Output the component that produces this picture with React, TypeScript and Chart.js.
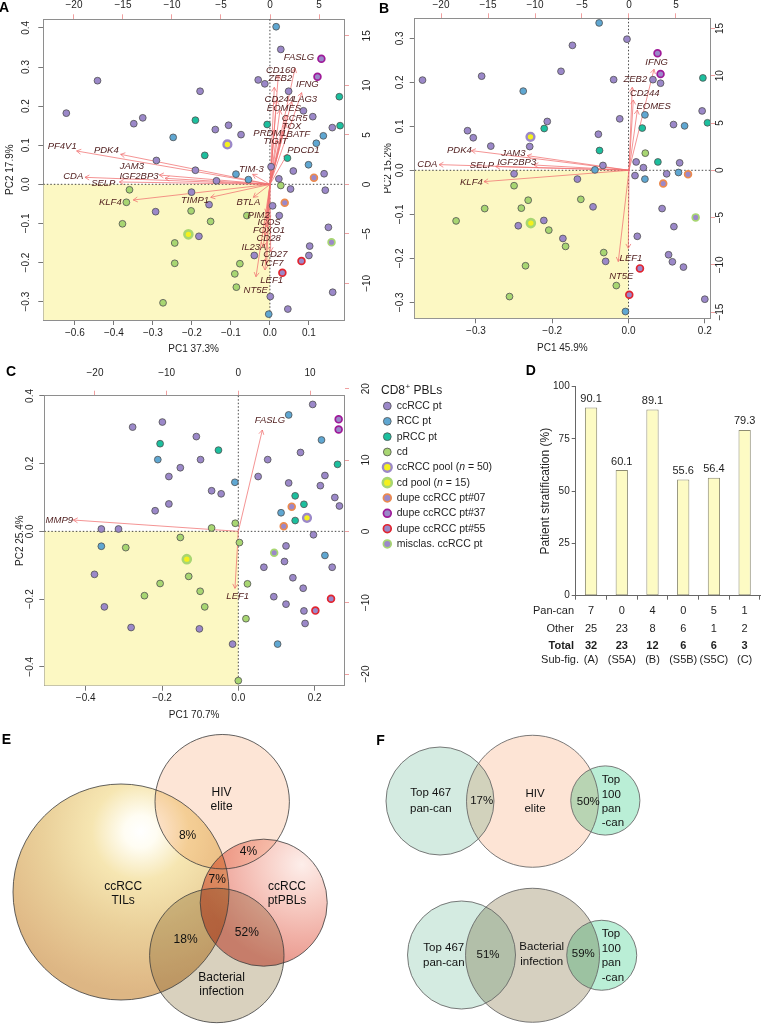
import React, { useEffect, useRef } from "react";
import { Chart, registerables } from "chart.js";

Chart.register(...registerables);

type P = [number, number];

// ======================= DATA =======================
const GROUPS = [
  "ccRCC pt",
  "RCC pt",
  "pRCC pt",
  "cd",
  "ccRCC pool (*n* = 50)",
  "cd pool (*n* = 15)",
  "dupe ccRCC pt#07",
  "dupe ccRCC pt#37",
  "dupe ccRCC pt#55",
  "misclas. ccRCC pt",
];

// ---- Panel A (PC1 37.3%, PC2 17.9%) ----
const A_ccRCC: P[] = [[-0.522,0.182],[-0.442,0.265],[-0.349,0.155],[-0.326,0.170],[-0.291,0.061],[-0.293,-0.070],[-0.179,0.238],[-0.191,0.036],[-0.201,-0.020],[-0.156,-0.052],[-0.182,-0.133],[-0.140,0.140],[-0.106,0.151],[-0.074,0.127],[-0.137,0.009],[-0.030,0.267],[-0.013,0.257],[0.028,0.345],[0.048,0.238],[0.086,0.188],[0.110,0.173],[0.160,0.145],[0.003,0.045],[0.023,0.014],[0.060,0.034],[0.139,0.027],[0.142,-0.015],[0.053,-0.012],[0.007,-0.055],[0.024,-0.080],[-0.040,-0.182],[0.102,-0.158],[0.100,-0.182],[0.150,-0.110],[0.161,-0.276],[0.001,-0.287],[0.046,-0.319]];
const A_RCC: P[] = [[0.016,0.403],[-0.248,0.120],[-0.087,0.026],[-0.055,0.012],[0.137,0.124],[0.119,0.105],[0.099,0.050],[-0.003,-0.332]];
const A_pRCC: P[] = [[-0.191,0.164],[-0.167,0.074],[-0.007,0.153],[0.045,0.067],[0.178,0.224],[0.180,0.150]];
const A_cd: P[] = [[-0.360,-0.014],[-0.368,-0.046],[-0.378,-0.101],[-0.202,-0.068],[-0.152,-0.095],[-0.059,-0.080],[-0.244,-0.150],[-0.244,-0.202],[-0.077,-0.203],[-0.090,-0.229],[-0.086,-0.263],[-0.274,-0.303],[0.028,-0.003]];
const A_ccPool: P[] = [[-0.109,0.102]];
const A_cdPool: P[] = [[-0.209,-0.128]];
const A_dupe07: P[] = [[0.113,0.017],[0.038,-0.047]];
const A_dupe37: P[] = [[0.132,0.321],[0.122,0.275]];
const A_dupe55: P[] = [[0.081,-0.196],[0.032,-0.226]];
const A_misclas: P[] = [[0.158,-0.148]];
const A_GENES = ["PF4V1","PDK4","JAM3","IGF2BP3","CDA","SELP","KLF4","TIMP1","TIM-3","BTLA","PIM2","ICOS","FOXO1","CD28","IL23A","CD27","TCF7","LEF1","NT5E","FASLG","CD160","ZEB2","IFNG","CD244","LAG3","EOMES","CCR5","TOX","PRDM1","BATF","TIGIT","PDCD1"];
const A_LOADINGS: P[] = [[-19.73,3.37],[-15.24,3.03],[-11.29,0.94],[-10.71,0.61],[-18.88,0.71],[-15.37,0.24],[-13.95,-1.58],[-6.05,-1.31],[-1.77,1.01],[-1.70,-1.31],[-0.34,-2.93],[-0.17,-3.60],[-0.34,-4.28],[-0.51,-5.12],[-0.68,-6.30],[0.07,-6.80],[-0.34,-7.98],[-1.43,-9.33],[-0.51,-8.65],[2.55,11.72],[0.85,11.04],[0.44,9.80],[3.23,9.26],[0.68,8.52],[2.21,8.35],[1.02,7.51],[1.70,7.00],[1.63,6.16],[0.41,5.49],[1.29,5.32],[0.75,4.48],[1.77,3.06]];
const A_LABEL_AT: P[] = [[-21.2,3.80],[-16.7,3.40],[-14.1,1.78],[-13.37,0.84],[-20.07,0.77],[-17.01,0.07],[-16.29,-1.82],[-7.65,-1.58],[-1.90,1.52],[-2.21,-1.78],[-1.16,-3.13],[-0.10,-3.87],[-0.10,-4.65],[-0.14,-5.49],[-1.63,-6.33],[0.54,-7.10],[0.17,-7.95],[0.17,-9.66],[-1.46,-10.67],[2.96,12.83],[1.09,11.55],[1.05,10.67],[3.81,10.07],[0.95,8.62],[3.57,8.59],[1.43,7.71],[2.52,6.70],[2.21,5.82],[0.0,5.15],[2.89,5.05],[0.54,4.31],[3.40,3.40]];
const A_XTICKS = [-0.5,-0.4,-0.3,-0.2,-0.1,0,0.1];
const A_XTICK_LABELS = ["-0.6","-0.4","-0.3","-0.2","-0.1","0.0","0.1"];
const A_YTICKS = [-0.3,-0.2,-0.1,0,0.1,0.2,0.3,0.4];
const A_YTICK_LABELS = ["-0.3","-0.2","-0.1","0.0","0.1","0.2","0.3","0.4"];
const A_X2TICKS = [-20,-15,-10,-5,0,5];
const A_Y2TICKS = [-10,-5,0,5,10,15];

// ---- Panel B (PC1 45.9%, PC2 15.2%) ----
const B_ccRCC: P[] = [[-0.540,0.205],[-0.385,0.214],[-0.422,0.090],[-0.407,0.074],[-0.361,0.055],[-0.259,0.054],[-0.213,0.111],[-0.177,0.225],[-0.147,0.284],[-0.079,0.082],[-0.067,0.011],[-0.300,-0.008],[-0.134,-0.020],[-0.093,-0.083],[-0.289,-0.126],[-0.222,-0.114],[-0.172,-0.155],[-0.060,-0.207],[-0.039,0.206],[-0.004,0.298],[-0.023,0.117],[0.020,0.019],[0.039,0.006],[0.017,-0.012],[0.064,0.206],[0.084,0.198],[0.100,-0.008],[0.088,-0.087],[0.118,0.104],[0.134,0.017],[0.119,-0.128],[0.105,-0.192],[0.115,-0.208],[0.144,-0.220],[0.023,-0.150],[0.193,0.135],[0.200,-0.293]];
const B_RCC: P[] = [[-0.077,0.335],[-0.276,0.180],[-0.088,0.001],[0.043,0.126],[0.043,-0.020],[0.147,0.101],[0.131,-0.005],[-0.008,-0.321]];
const B_pRCC: P[] = [[-0.221,0.095],[-0.076,0.045],[0.036,0.096],[0.077,0.019],[0.195,0.210],[0.207,0.108]];
const B_cd: P[] = [[-0.300,-0.035],[-0.263,-0.068],[-0.377,-0.087],[-0.281,-0.086],[-0.452,-0.115],[-0.209,-0.136],[-0.165,-0.173],[-0.125,-0.066],[-0.065,-0.187],[-0.270,-0.217],[-0.312,-0.287],[-0.032,-0.262],[0.044,0.039]];
const B_ccPool: P[] = [[-0.257,0.076]];
const B_cdPool: P[] = [[-0.256,-0.120]];
const B_dupe07: P[] = [[0.156,-0.009],[0.091,-0.030]];
const B_dupe37: P[] = [[0.076,0.266],[0.084,0.219]];
const B_dupe55: P[] = [[0.030,-0.223],[0.002,-0.283]];
const B_misclas: P[] = [[0.176,-0.107]];
const B_GENES = ["PDK4","CDA","JAM3","IGF2BP3","SELP","KLF4","IFNG","ZEB2","CD244","EOMES","LEF1","NT5E"];
const B_LOADINGS: P[] = [[-16.77,2.08],[-20.21,0.60],[-10.82,1.55],[-10.11,0.56],[-14.18,0.39],[-15.43,-1.20],[2.66,10.69],[0.35,8.78],[0.46,7.44],[0.89,6.38],[-0.07,-8.25],[-1.14,-9.66]];
const B_LABEL_AT: P[] = [[-18.05,2.12],[-21.45,0.60],[-12.30,1.80],[-11.95,0.81],[-15.64,0.53],[-16.77,-1.23],[2.94,11.46],[0.67,9.66],[1.67,8.15],[2.62,6.81],[0.21,-9.31],[-0.82,-11.25]];
const B_XTICKS = [-0.4,-0.2,0,0.2];
const B_XTICK_LABELS = ["-0.3","-0.2","0.0","0.2"];
const B_YTICKS = [-0.3,-0.2,-0.1,0,0.1,0.2,0.3];
const B_YTICK_LABELS = ["-0.3","-0.2","-0.1","0.0","0.1","0.2","0.3"];
const B_X2TICKS = [-20,-15,-10,-5,0,5];
const B_Y2TICKS = [-15,-10,-5,0,5,10,15];

// ---- Panel C (PC1 70.7%, PC2 25.4%) ----
const C_ccRCC: P[] = [[-0.277,0.308],[-0.199,0.323],[-0.110,0.280],[-0.152,0.188],[-0.182,0.162],[-0.099,0.212],[-0.070,0.120],[-0.045,0.111],[-0.182,0.081],[-0.218,0.061],[-0.359,0.007],[-0.314,0.007],[-0.377,-0.127],[-0.351,-0.223],[-0.281,-0.284],[-0.102,-0.288],[-0.015,-0.333],[0.052,0.162],[0.077,0.212],[0.132,0.143],[0.163,0.233],[0.195,0.375],[0.215,0.135],[0.227,0.165],[0.253,0.100],[0.265,0.075],[0.197,-0.010],[0.125,-0.043],[0.121,-0.089],[0.067,-0.106],[0.143,-0.137],[0.170,-0.168],[0.093,-0.193],[0.125,-0.215],[0.172,-0.235],[0.175,-0.272],[0.246,-0.106]];
const C_RCC: P[] = [[0.132,0.344],[-0.211,0.212],[-0.009,0.145],[0.218,0.270],[0.112,0.055],[-0.359,-0.044],[0.227,-0.071],[0.103,-0.333]];
const C_pRCC: P[] = [[-0.205,0.259],[-0.052,0.240],[0.149,0.105],[0.172,0.080],[0.149,0.032],[0.260,0.198]];
const C_cd: P[] = [[-0.070,0.010],[-0.008,0.024],[-0.152,-0.018],[0.003,-0.033],[-0.295,-0.048],[-0.130,-0.133],[-0.205,-0.154],[-0.246,-0.190],[-0.100,-0.177],[-0.088,-0.223],[0.024,-0.155],[0.020,-0.258],[0.000,-0.441]];
const C_ccPool: P[] = [[0.180,0.040]];
const C_cdPool: P[] = [[-0.135,-0.082]];
const C_dupe07: P[] = [[0.140,0.073],[0.119,0.015]];
const C_dupe37: P[] = [[0.263,0.331],[0.263,0.301]];
const C_dupe55: P[] = [[0.243,-0.199],[0.202,-0.234]];
const C_misclas: P[] = [[0.094,-0.063]];
const C_GENES = ["MMP9","FASLG","LEF1"];
const C_LOADINGS: P[] = [[-23.02,1.59],[3.35,14.21],[-0.47,-7.99]];
const C_LABEL_AT: P[] = [[-24.98,1.59],[4.42,15.51],[-0.09,-9.16]];
const C_XTICKS = [-0.4,-0.2,0,0.2];
const C_XTICK_LABELS = ["-0.4","-0.2","0.0","0.2"];
const C_YTICKS = [-0.4,-0.2,0,0.2,0.4];
const C_YTICK_LABELS = ["-0.4","-0.2","0.0","0.2","0.4"];
const C_X2TICKS = [-20,-10,0,10];
const C_Y2TICKS = [-20,-10,0,10,20];

// ---- Panel D ----
const D_SUBFIG = ["(A)","(S5A)","(B)","(S5B)","(S5C)","(C)"];
const D_STRAT = [90.1,60.1,89.1,55.6,56.4,79.3];
const D_PANCAN = [7,0,4,0,5,1];
const D_OTHER = [25,23,8,6,1,2];
const D_TOTAL = [32,23,12,6,6,3];
const D_YTICKS = [0,25,50,75,100];

// ---- Panel E (Venn) ----
const E_SETS = ["ccRCC\nTILs","HIV\nelite","ccRCC\nptPBLs","Bacterial\ninfection"];
const E_CX = [30.25,55.55,65.93,54.2];
const E_CY = [34.75,57.33,32.08,18.88];
const E_R = [27,16.8,15.88,16.8];
const E_PCT = ["8%","4%","7%","52%","18%"];

// ---- Panel F (Venns) ----
const F_SETS = ["Top 467\npan-can","HIV\nelite","Top\n100\npan\n-can","Top 467\npan-can","Bacterial\ninfection","Top\n100\npan\n-can"];
const F_CX = [16.25,39.38,57.58,21.63,39.38,56.68];
const F_CY = [57.5,57.43,57.63,19.0,18.93,18.93];
const F_R = [13.5,16.5,8.65,13.5,16.75,8.75];
const F_PCT = ["17%","50%","51%","59%"];

// ======================= STYLE / LAYOUT =======================
const FONT = "'Liberation Sans', Arial, Helvetica, sans-serif";
const MINUS = "\u2212";
const neg = (s: string) => s.replace(/^-/, MINUS);
const QUAD = "#fcf8c3";
const ARROW = "#f07070";
const GENE_TXT = "#4e1c1c";
const BOX = "#8e8e8e";
const TICK_DARK = "#777777";
const TICK_PINK = "#f0a0a0";
const TXT = "#1e1e1e";

const PURPLE = "#9b88c9";
const BLUE = "#5fa7d2";
const TEAL = "#1cbf9e";
const GREEN = "#a8d672";
const YELLOW = "#f4f01e";
const EDGE = "#505050";
const GROUP_STYLE = [
  { fill: PURPLE, stroke: EDGE, r: 3.4, w: 0.8 },
  { fill: BLUE, stroke: EDGE, r: 3.4, w: 0.8 },
  { fill: TEAL, stroke: EDGE, r: 3.4, w: 0.8 },
  { fill: GREEN, stroke: EDGE, r: 3.4, w: 0.8 },
  { fill: YELLOW, stroke: PURPLE, r: 3.9, w: 2.4 },
  { fill: YELLOW, stroke: GREEN, r: 4.0, w: 2.6 },
  { fill: PURPLE, stroke: "#ec8a4e", r: 3.4, w: 1.7 },
  { fill: PURPLE, stroke: "#9f1a98", r: 3.4, w: 1.7 },
  { fill: PURPLE, stroke: "#e2252f", r: 3.4, w: 1.7 },
  { fill: PURPLE, stroke: GREEN, r: 3.4, w: 1.7 },
];

interface Biplot {
  groups: P[][];
  genes: string[]; loadings: P[]; labelAt: P[];
  xRange: P; yRange: P; x2Range: P; y2Range: P;
  xTicks: number[]; xTickLabels: string[];
  yTicks: number[]; yTickLabels: string[];
  x2Ticks: number[]; y2Ticks: number[];
  xTitle: string; yTitle: string;
}
interface BLayout {
  left: number; top: number; right: number; bottom: number;
  labLeft: number; labRight: number; labTop: number; labBottom: number;
  titleBottom: number; titleLeft: number;
  legend?: { x: number; titleY: number; mx: number; tx: number; y0: number; dy: number };
}

const PANEL_A: Biplot = {
  groups: [A_ccRCC, A_RCC, A_pRCC, A_cd, A_ccPool, A_cdPool, A_dupe07, A_dupe37, A_dupe55, A_misclas],
  genes: A_GENES, loadings: A_LOADINGS, labelAt: A_LABEL_AT,
  xRange: [-0.581, 0.190], yRange: [-0.347, 0.422], x2Range: [-23.13, 7.55], y2Range: [-13.70, 16.67],
  xTicks: A_XTICKS, xTickLabels: A_XTICK_LABELS, yTicks: A_YTICKS, yTickLabels: A_YTICK_LABELS,
  x2Ticks: A_X2TICKS, y2Ticks: A_Y2TICKS, xTitle: "PC1 37.3%", yTitle: "PC2 17.9%",
};
const PANEL_B: Biplot = {
  groups: [B_ccRCC, B_RCC, B_pRCC, B_cd, B_ccPool, B_cdPool, B_dupe07, B_dupe37, B_dupe55, B_misclas],
  genes: B_GENES, loadings: B_LOADINGS, labelAt: B_LABEL_AT,
  xRange: [-0.5605, 0.2136], yRange: [-0.3364, 0.3455], x2Range: [-22.80, 8.62], y2Range: [-15.66, 16.08],
  xTicks: B_XTICKS, xTickLabels: B_XTICK_LABELS, yTicks: B_YTICKS, yTickLabels: B_YTICK_LABELS,
  x2Ticks: B_X2TICKS, y2Ticks: B_Y2TICKS, xTitle: "PC1 45.9%", yTitle: "PC2 15.2%",
};
const PANEL_C: Biplot = {
  groups: [C_ccRCC, C_RCC, C_pRCC, C_cd, C_ccPool, C_cdPool, C_dupe07, C_dupe37, C_dupe55, C_misclas],
  genes: C_GENES, loadings: C_LOADINGS, labelAt: C_LABEL_AT,
  xRange: [-0.5085, 0.277], yRange: [-0.4559, 0.4008], x2Range: [-27.07, 14.74], y2Range: [-21.64, 19.02],
  xTicks: C_XTICKS, xTickLabels: C_XTICK_LABELS, yTicks: C_YTICKS, yTickLabels: C_YTICK_LABELS,
  x2Ticks: C_X2TICKS, y2Ticks: C_Y2TICKS, xTitle: "PC1 70.7%", yTitle: "PC2 25.4%",
};

const LAYOUT_A: BLayout = { left: 43.3, top: 19.3, right: 40, bottom: 42, labLeft: 17.5, labRight: 23, labTop: 14.3, labBottom: 13, titleBottom: 29.7, titleLeft: 33 };
const LAYOUT_B: BLayout = { left: 30.7, top: 18.3, right: 58, bottom: 43.7, labLeft: 14.7, labRight: 10, labTop: 13.3, labBottom: 13, titleBottom: 29.7, titleLeft: 26 };
const LAYOUT_C: BLayout = {
  left: 44.3, top: 33.7, right: 196, bottom: 36.3, labLeft: 14.3, labRight: 22.7, labTop: 22.4, labBottom: 12.6, titleBottom: 29.3, titleLeft: 24,
  legend: { x: 381, titleY: 28.7, mx: 387.3, tx: 396.7, y0: 44, dy: 15.33 },
};

// ======================= HELPERS =======================
function fixedTicks(values: number[]) {
  return (scale: any) => {
    scale.ticks = values.map((value) => ({ value }));
  };
}

function drawArrow(ctx: CanvasRenderingContext2D, x1: number, y1: number, x2: number, y2: number) {
  const len = 5, ang = Math.PI / 6;
  const a = Math.atan2(y2 - y1, x2 - x1);
  ctx.beginPath();
  ctx.moveTo(x1, y1);
  ctx.lineTo(x2, y2);
  ctx.moveTo(x2 - len * Math.cos(a - ang), y2 - len * Math.sin(a - ang));
  ctx.lineTo(x2, y2);
  ctx.lineTo(x2 - len * Math.cos(a + ang), y2 - len * Math.sin(a + ang));
  ctx.stroke();
}

function drawRich(ctx: CanvasRenderingContext2D, text: string, x: number, y: number, size: number) {
  let cx = x;
  text.split("*").forEach((part, i) => {
    ctx.font = `${i % 2 ? "italic " : ""}${size}px ${FONT}`;
    ctx.fillText(part, cx, y);
    cx += ctx.measureText(part).width;
  });
}

function vText(ctx: CanvasRenderingContext2D, text: string, x: number, y: number) {
  ctx.save();
  ctx.translate(x, y);
  ctx.rotate(-Math.PI / 2);
  ctx.fillText(text, 0, 0);
  ctx.restore();
}

function multiline(ctx: CanvasRenderingContext2D, text: string, x: number, y: number, lh: number) {
  const lines = text.split("\n");
  const y0 = y - ((lines.length - 1) * lh) / 2;
  lines.forEach((l, i) => ctx.fillText(l, x, y0 + i * lh));
}

// ======================= BIPLOT =======================
function biplotPlugin(p: Biplot, L: BLayout) {
  return {
    id: "biplot",
    beforeDatasetsDraw(chart: any) {
      const { ctx, chartArea: a, scales } = chart;
      const x0 = scales.x.getPixelForValue(0);
      const y0 = scales.y.getPixelForValue(0);
      ctx.save();
      ctx.beginPath();
      ctx.rect(a.left, a.top, a.right - a.left, a.bottom - a.top);
      ctx.clip();
      ctx.fillStyle = QUAD;
      ctx.fillRect(a.left, y0, x0 - a.left, a.bottom - y0);
      ctx.strokeStyle = "#1a1a1a";
      ctx.lineWidth = 0.8;
      ctx.setLineDash([1.5, 2]);
      ctx.beginPath();
      ctx.moveTo(x0, a.top);
      ctx.lineTo(x0, a.bottom);
      ctx.moveTo(a.left, y0);
      ctx.lineTo(a.right, y0);
      ctx.stroke();
      ctx.setLineDash([]);
      const ox = scales.x2.getPixelForValue(0);
      const oy = scales.y2.getPixelForValue(0);
      ctx.strokeStyle = ARROW;
      ctx.lineWidth = 0.75;
      p.loadings.forEach(([u, v]) => drawArrow(ctx, ox, oy, scales.x2.getPixelForValue(u), scales.y2.getPixelForValue(v)));
      ctx.restore();
    },
    afterDatasetsDraw(chart: any) {
      const { ctx, scales } = chart;
      ctx.save();
      ctx.fillStyle = GENE_TXT;
      ctx.font = `italic 9.5px ${FONT}`;
      ctx.textAlign = "center";
      ctx.textBaseline = "middle";
      p.genes.forEach((g, i) => {
        const [u, v] = p.labelAt[i];
        ctx.fillText(g, scales.x2.getPixelForValue(u), scales.y2.getPixelForValue(v));
      });
      ctx.restore();
    },
    afterDraw(chart: any) {
      const { ctx, chartArea: a, scales } = chart;
      ctx.save();
      ctx.fillStyle = TXT;
      ctx.font = `10px ${FONT}`;
      ctx.textAlign = "center";
      ctx.textBaseline = "middle";
      p.xTicks.forEach((v, i) => ctx.fillText(neg(p.xTickLabels[i]), scales.x.getPixelForValue(v), a.bottom + L.labBottom));
      p.x2Ticks.forEach((v) => ctx.fillText(neg(String(v)), scales.x2.getPixelForValue(v), a.top - L.labTop));
      p.yTicks.forEach((v, i) => vText(ctx, neg(p.yTickLabels[i]), a.left - L.labLeft, scales.y.getPixelForValue(v)));
      p.y2Ticks.forEach((v) => vText(ctx, neg(String(v)), a.right + L.labRight, scales.y2.getPixelForValue(v)));
      ctx.fillText(p.xTitle, (a.left + a.right) / 2, a.bottom + L.titleBottom);
      vText(ctx, p.yTitle, a.left - L.titleLeft, (a.top + a.bottom) / 2);
      const lg = L.legend;
      if (lg) {
        ctx.textAlign = "left";
        ctx.font = `12px ${FONT}`;
        ctx.fillText("CD8", lg.x, lg.titleY);
        const w1 = ctx.measureText("CD8").width;
        ctx.font = `8px ${FONT}`;
        ctx.fillText("+", lg.x + w1 + 0.5, lg.titleY - 3.5);
        const w2 = ctx.measureText("+").width;
        ctx.font = `12px ${FONT}`;
        ctx.fillText(" PBLs", lg.x + w1 + w2 + 0.5, lg.titleY);
        GROUPS.forEach((g, i) => {
          const st = GROUP_STYLE[i];
          const y = lg.y0 + i * lg.dy;
          ctx.beginPath();
          ctx.arc(lg.mx, y, st.r + 0.5, 0, Math.PI * 2);
          ctx.fillStyle = st.fill;
          ctx.fill();
          ctx.lineWidth = st.w;
          ctx.strokeStyle = st.stroke;
          ctx.stroke();
          ctx.fillStyle = TXT;
          drawRich(ctx, g, lg.tx, y, 10.5);
        });
      }
      ctx.restore();
    },
  };
}

function makeBiplot(p: Biplot, L: BLayout) {
  const datasets = p.groups.map((pts, i) => ({
    label: GROUPS[i].replace(/\*/g, ""),
    data: pts.map(([x, y]) => ({ x, y })),
    xAxisID: "x",
    yAxisID: "y",
    pointRadius: GROUP_STYLE[i].r,
    pointHoverRadius: GROUP_STYLE[i].r,
    pointBackgroundColor: GROUP_STYLE[i].fill,
    pointBorderColor: GROUP_STYLE[i].stroke,
    pointBorderWidth: GROUP_STYLE[i].w,
  }));
  const grid = (color: string) => ({ display: true, drawOnChartArea: false, drawTicks: true, tickLength: 5, color, lineWidth: 1 });
  const border = { display: true, color: BOX, width: 1 };
  const axis = (position: string, range: P, ticks: number[], color: string, fit: (s: any) => void) => ({
    type: "linear",
    position,
    min: range[0],
    max: range[1],
    afterBuildTicks: fixedTicks(ticks),
    afterFit: fit,
    ticks: { display: false },
    grid: grid(color),
    border,
  });
  return {
    type: "scatter",
    data: { datasets },
    options: {
      responsive: false,
      animation: false,
      devicePixelRatio: 1,
      events: [],
      layout: { padding: 0 },
      plugins: { legend: { display: false }, tooltip: { enabled: false } },
      scales: {
        x: axis("bottom", p.xRange, p.xTicks, TICK_DARK, (s: any) => { s.height = L.bottom; }),
        x2: axis("top", p.x2Range, p.x2Ticks, TICK_PINK, (s: any) => { s.height = L.top; }),
        y: axis("left", p.yRange, p.yTicks, TICK_DARK, (s: any) => { s.width = L.left; }),
        y2: axis("right", p.y2Range, p.y2Ticks, TICK_PINK, (s: any) => { s.width = L.right; }),
      },
    },
    plugins: [biplotPlugin(p, L)],
  };
}

// ======================= BAR (D) =======================
function makeBar() {
  const tablePlugin = {
    id: "dtable",
    afterDatasetsDraw(chart: any) {
      const { ctx } = chart;
      const meta = chart.getDatasetMeta(0);
      ctx.save();
      ctx.fillStyle = TXT;
      ctx.font = `11px ${FONT}`;
      ctx.textAlign = "center";
      ctx.textBaseline = "bottom";
      meta.data.forEach((bar: any, i: number) => ctx.fillText(D_STRAT[i].toFixed(1), bar.x, bar.y - 3));
      ctx.restore();
    },
    afterDraw(chart: any) {
      const { ctx, chartArea: a, scales } = chart;
      ctx.save();
      ctx.fillStyle = TXT;
      ctx.textBaseline = "middle";
      const rows: [string, (string | number)[], boolean, number, number][] = [
        ["Pan-can", D_PANCAN, false, 248.5, 54],
        ["Other", D_OTHER, false, 266.8, 54],
        ["Total", D_TOTAL, true, 283.5, 54],
        ["Sub-fig.", D_SUBFIG, false, 298, 59],
      ];
      rows.forEach(([name, vals, bold, y, rx]) => {
        ctx.font = `${bold ? "bold " : ""}11px ${FONT}`;
        ctx.textAlign = "right";
        ctx.fillText(name, rx, y);
        ctx.textAlign = "center";
        vals.forEach((v, i) => ctx.fillText(String(v), scales.x.getPixelForValue(i), y));
      });
      ctx.font = `12px ${FONT}`;
      ctx.textAlign = "center";
      vText(ctx, "Patient stratification (%)", 25.7, (a.top + a.bottom) / 2);
      ctx.restore();
    },
  };
  return {
    type: "bar",
    data: {
      labels: D_SUBFIG,
      datasets: [
        {
          data: D_STRAT,
          backgroundColor: "#fdfbc4",
          borderColor: "#8d8b72",
          borderWidth: 1,
          borderSkipped: false,
          barPercentage: 0.4,
          categoryPercentage: 1,
        },
      ],
    },
    options: {
      responsive: false,
      animation: false,
      devicePixelRatio: 1,
      events: [],
      layout: { padding: { top: 24.7, right: 8, left: 0, bottom: 0 } },
      plugins: { legend: { display: false }, tooltip: { enabled: false } },
      scales: {
        x: {
          offset: true,
          grid: { offset: true, drawOnChartArea: false, drawTicks: true, tickLength: 4, color: "#666" },
          border: { display: true, color: "#666" },
          ticks: { display: false },
          afterFit: (s: any) => { s.height = 76.3; },
        },
        y: {
          min: 0,
          max: 100,
          afterBuildTicks: fixedTicks(D_YTICKS),
          ticks: { font: { family: FONT, size: 10 }, color: TXT, padding: 2 },
          grid: { drawOnChartArea: false, drawTicks: true, tickLength: 4, color: "#666" },
          border: { display: true, color: "#666" },
          afterFit: (s: any) => { s.width = 55.7; },
        },
      },
    },
    plugins: [tablePlugin],
  };
}

// ======================= VENN (E, F) =======================
type FillFn = (ctx: CanvasRenderingContext2D, X: number, Y: number, R: number) => any;
function radial(ctx: CanvasRenderingContext2D, x: number, y: number, r: number, stops: [number, string][]) {
  const g = ctx.createRadialGradient(x, y, 0, x, y, r);
  stops.forEach(([o, c]) => g.addColorStop(o, c));
  return g;
}
interface VennSpec {
  w: number; h: number; unit: number;
  sets: string[]; cx: number[]; cy: number[]; r: number[];
  fills: FillFn[]; stroke: string;
  setPos: P[]; setAlign: string[]; setLH: number[];
  pct: string[]; pctPos: P[];
  font: number;
}
const E_SPEC: VennSpec = {
  w: 384, h: 306, unit: 4,
  sets: E_SETS, cx: E_CX, cy: E_CY, r: E_R,
  fills: [
    (ctx, X, Y, R) => radial(ctx, X + 0.18 * R, Y - 0.56 * R, 1.5 * R, [[0, "#ffffff"], [0.1, "#fffdf3"], [0.3, "#f6e6b2"], [0.6, "#ead09a"], [0.9, "#e1bc89"], [1, "#ddb684"]]),
    () => "#fde5d6",
    (ctx, X, Y, R) => radial(ctx, X + 0.6 * R, Y - 0.6 * R, 1.6 * R, [[0, "#fdeeea"], [0.35, "#f8d0c8"], [0.7, "#f1b1a7"], [1, "#e9998e"]]),
    () => "#d9d1be",
  ],
  stroke: "rgba(60,60,60,0.8)",
  setPos: [[30.8, 34.3], [55.4, 57.8], [71.75, 34.3], [55.4, 11.58]],
  setAlign: ["center", "center", "center", "center"],
  setLH: [14.3, 14.3, 14.3, 14.3],
  pct: E_PCT,
  pctPos: [[46.9, 48.75], [62.1, 44.75], [54.3, 37.75], [61.7, 24.6], [46.4, 22.75]],
  font: 12,
};
const F_SPEC: VennSpec = {
  w: 393, h: 306, unit: 4,
  sets: F_SETS, cx: F_CX, cy: F_CY, r: F_R,
  fills: [() => "#d4ebe1", () => "#fde4d5", () => "#baeed6", () => "#d4ebe1", () => "#d6d0c0", () => "#baeed6"],
  stroke: "rgba(100,100,100,0.85)",
  setPos: [[13.95, 57.43], [40, 57.45], [56.68, 57.34], [17.2, 18.95], [41.68, 19.2], [56.68, 18.75]],
  setAlign: ["center", "center", "left", "center", "center", "left"],
  setLH: [16, 14.3, 14.4, 15, 15, 14.5],
  pct: F_PCT,
  pctPos: [[26.68, 57.58], [53.33, 57.18], [28.25, 19.0], [52.08, 19.18]],
  font: 11.5,
};

function makeVenn(s: VennSpec) {
  const plugin = {
    id: "venn",
    afterDatasetsDraw(chart: any) {
      const { ctx, scales } = chart;
      const px = (v: number) => scales.x.getPixelForValue(v);
      const py = (v: number) => scales.y.getPixelForValue(v);
      const pr = (r: number) => scales.x.getPixelForValue(r) - scales.x.getPixelForValue(0);
      ctx.save();
      ctx.globalCompositeOperation = "multiply";
      s.cx.forEach((cx, i) => {
        const X = px(cx), Y = py(s.cy[i]), R = pr(s.r[i]);
        ctx.fillStyle = s.fills[i](ctx, X, Y, R);
        ctx.beginPath();
        ctx.arc(X, Y, R, 0, Math.PI * 2);
        ctx.fill();
      });
      ctx.globalCompositeOperation = "source-over";
      ctx.strokeStyle = s.stroke;
      ctx.lineWidth = 1;
      s.cx.forEach((cx, i) => {
        ctx.beginPath();
        ctx.arc(px(cx), py(s.cy[i]), pr(s.r[i]), 0, Math.PI * 2);
        ctx.stroke();
      });
      ctx.fillStyle = "#111";
      ctx.font = `${s.font}px ${FONT}`;
      ctx.textBaseline = "middle";
      s.sets.forEach((name, i) => {
        ctx.textAlign = s.setAlign[i];
        multiline(ctx, name, px(s.setPos[i][0]), py(s.setPos[i][1]), s.setLH[i]);
      });
      ctx.textAlign = "center";
      s.pct.forEach((t, i) => ctx.fillText(t, px(s.pctPos[i][0]), py(s.pctPos[i][1])));
      ctx.restore();
    },
  };
  return {
    type: "scatter",
    data: { datasets: [{ data: s.cx.map((x, i) => ({ x, y: s.cy[i] })), pointRadius: 0 }] },
    options: {
      responsive: false,
      animation: false,
      devicePixelRatio: 1,
      events: [],
      layout: { padding: 0 },
      plugins: { legend: { display: false }, tooltip: { enabled: false } },
      scales: {
        x: { display: false, min: 0, max: s.w / s.unit },
        y: { display: false, min: 0, max: s.h / s.unit },
      },
    },
    plugins: [plugin],
  };
}

// ======================= REACT =======================
function ChartCanvas(props: { left: number; top: number; width: number; height: number; make: () => any }) {
  const ref = useRef<HTMLCanvasElement>(null);
  useEffect(() => {
    const chart = new Chart(ref.current as HTMLCanvasElement, props.make());
    return () => chart.destroy();
  }, []);
  const { left, top, width, height } = props;
  return (
    <canvas
      ref={ref}
      width={width}
      height={height}
      style={{ position: "absolute", left, top, width, height }}
    />
  );
}

const LETTERS: [string, number, number][] = [
  ["A", -1, -0.2],
  ["B", 379, 1.4],
  ["C", 6, 364.1],
  ["D", 525.7, 363.1],
  ["E", 1.7, 732.4],
  ["F", 376.3, 733.1],
];

export default function App() {
  return (
    <div
      style={{
        position: "absolute",
        left: 0,
        top: 0,
        width: 768,
        height: 1031,
        background: "#ffffff",
        overflow: "hidden",
        fontFamily: FONT,
      }}
    >
      <ChartCanvas left={0} top={0} width={384} height={362} make={() => makeBiplot(PANEL_A, LAYOUT_A)} />
      <ChartCanvas left={384} top={0} width={384} height={362} make={() => makeBiplot(PANEL_B, LAYOUT_B)} />
      <ChartCanvas left={0} top={362} width={540} height={360} make={() => makeBiplot(PANEL_C, LAYOUT_C)} />
      <ChartCanvas left={520} top={362} width={248} height={310} make={() => makeBar()} />
      <ChartCanvas left={0} top={725} width={384} height={306} make={() => makeVenn(E_SPEC)} />
      <ChartCanvas left={375} top={725} width={393} height={306} make={() => makeVenn(F_SPEC)} />
      {LETTERS.map(([t, x, y]) => (
        <div
          key={t}
          style={{
            position: "absolute",
            left: x,
            top: y,
            font: `bold 14px ${FONT}`,
            lineHeight: "14px",
            color: "#000",
          }}
        >
          {t}
        </div>
      ))}
    </div>
  );
}
